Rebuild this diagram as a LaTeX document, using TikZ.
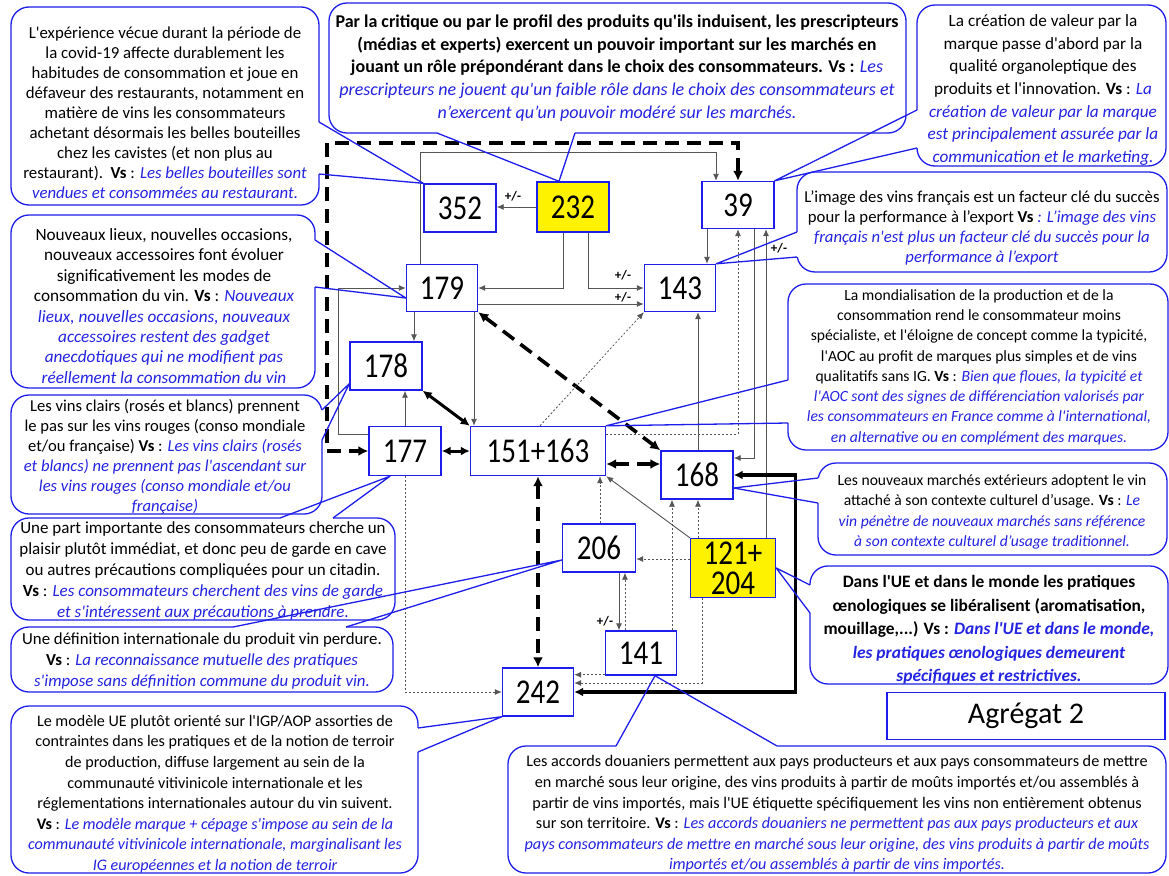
\documentclass[tikz,border=0pt]{standalone}
\usepackage{fontspec}
\setmainfont{Carlito}[Ligatures=TeXOff]
\usetikzlibrary{arrows.meta}
\definecolor{boxblue}{RGB}{30,30,235}
\definecolor{altblue}{RGB}{35,35,225}
\definecolor{linegray}{RGB}{85,85,85}
\newcommand\VS{\textbf{Vs}}
\newcommand\altx[1]{{\color{altblue}\itshape #1}}
\newcommand\altn[1]{{\color{altblue}\mdseries\itshape #1}}
\newcommand\altb[1]{{\color{altblue}\bfseries\itshape #1}}
\newcommand\tallnum[1]{\scalebox{1}[1.2]{#1}}
\newcommand\fs[2]{\fontsize{#1}{#2}\selectfont}
\pgfdeclarelayer{back}
\pgfdeclarelayer{mid}
\pgfsetlayers{back,mid,main}

\begin{document}
\begin{tikzpicture}[x=1pt,y=-1pt,
  callout/.style={draw=boxblue, line width=1.3pt, rounded corners=18pt, fill=white},
  ctext/.style={align=center, font=\fs{16.5}{20.5}, inner sep=0pt},
  numbox/.style={draw=boxblue, line width=1.4pt, fill=white, minimum width=72pt,
    minimum height=48pt, inner sep=0pt, font=\fs{29}{30}},
  wedge/.style={draw=boxblue, line width=1.3pt, line join=round},
  gap/.style={draw=white, line width=3pt},
  conn/.style={draw=linegray, line width=0.9pt, -{Latex[length=7pt,width=6pt]}},
  dotconn/.style={draw=linegray, line width=0.8pt, dash pattern=on 2pt off 2pt,
    -{Latex[length=7pt,width=6pt]}},
  heavy/.style={draw=black, line width=3pt,
    {Latex[length=9pt,width=9pt]}-{Latex[length=9pt,width=9pt]}},
  heavydash/.style={draw=black, line width=3.6pt, dash pattern=on 14pt off 8pt,
    {Latex[length=10pt,width=10pt]}-{Latex[length=10pt,width=10pt]}},
  pm/.style={font=\bfseries\fs{13}{14}, inner sep=0pt},
]
\useasboundingbox (0,0) rectangle (1169,875);

% ---------- factor boxes ----------
\node[numbox] (n352) at (460,208) {\tallnum{352}};
\node[numbox, fill=yellow, minimum height=50pt] (n232) at (573,207) {\tallnum{232}};
\node[numbox, minimum height=47pt] (n39) at (738,205) {\tallnum{39}};
\node[numbox, minimum width=71pt, minimum height=47pt] (n179) at (442,288) {\tallnum{179}};
\node[numbox, minimum width=71pt, minimum height=47pt] (n143) at (680,288) {\tallnum{143}};
\node[numbox] (n178) at (386,366) {\tallnum{178}};
\node[numbox, minimum height=49pt] (n177) at (405,451) {\tallnum{177}};
\node[numbox, minimum width=135pt, minimum height=49pt] (n151) at (538,451) {\tallnum{151+163}};
\node[numbox, minimum width=72pt] (n168) at (697,475) {\tallnum{168}};
\node[numbox, minimum width=73pt] (n206) at (599,548) {\tallnum{206}};
\node[numbox, fill=yellow, minimum width=85pt, minimum height=59pt, align=center] (n121) at (733,568) {\tallnum{121+}\\\tallnum{204}};
\node[numbox, minimum width=71pt, minimum height=44pt] (n141) at (641,653) {\tallnum{141}};
\node[numbox, minimum width=71pt] (n242) at (538,692) {\tallnum{242}};
\node[draw=boxblue, line width=1.4pt, minimum width=278pt, minimum height=47pt,
  inner sep=0pt, font=\fs{30}{32}] (agg) at (1026,716) {Agrégat 2};

% ---------- hypotheses (callouts) ----------
\begin{pgfonlayer}{back}
\fill[white] (0,0) rectangle (1169,875);
\draw[callout] (11,7) rectangle (319,205);
\node[ctext, font=\fs{16.8}{20}] (ta) at (165,113) {L'expérience vécue durant la période de\\la covid-19 affecte durablement les\\habitudes de consommation et joue en\\défaveur des restaurants, notamment en\\matière de vins les consommateurs\\achetant désormais les belles bouteilles\\chez les cavistes (et non plus au\\restaurant).\ \ \VS{} : \altx{Les belles bouteilles sont}\\\altx{vendues et consommées au restaurant.}};

\draw[callout] (329,3) rectangle (906,133);
\node[ctext, font=\bfseries\fs{18}{22.8}] (tb) at (617,68) {Par la critique ou par le profil des produits qu'ils induisent, les prescripteurs\\(médias et experts) exercent un pouvoir important sur les marchés en\\jouant un rôle prépondérant dans le choix des consommateurs. Vs : \altn{Les}\\\altn{prescripteurs ne jouent qu'un faible rôle dans le choix des consommateurs et}\\\altn{n’exercent qu’un pouvoir modéré sur les marchés.}};

\draw[callout] (917,5) rectangle (1166,166);
\node[ctext, font=\fs{17.2}{22.6}] (tc) at (1043,90) {La création de valeur par la\\marque passe d'abord par la\\qualité organoleptique des\\produits et l'innovation. \VS{} : \altx{La}\\\altx{création de valeur par la marque}\\\altx{est principalement assurée par la}\\\altx{communication et le marketing.}};

\draw[callout] (797,172) rectangle (1167,272);
\node[ctext, font=\fs{16.7}{20}] (td) at (982,228) {L’image des vins français est un facteur clé du succès\\pour la performance à l’export \VS{} \altx{: L’image des vins}\\\altx{français n'est plus un facteur clé du succès pour la}\\\altx{performance à l’export}};

\draw[callout] (11,215) rectangle (315,388);
\node[ctext, font=\fs{17.2}{20.4}] (te) at (164,306) {Nouveaux lieux, nouvelles occasions,\\nouveaux accessoires font évoluer\\significativement les modes de\\consommation du vin. \VS{} : \altx{Nouveaux}\\\altx{lieux, nouvelles occasions, nouveaux}\\\altx{accessoires restent des gadget}\\\altx{anecdotiques qui ne modifient pas}\\\altx{réellement la consommation du vin}};

\draw[callout] (788,284) rectangle (1168,450);
\node[ctext, font=\fs{15.6}{20.3}] (tf) at (979,367) {La mondialisation de la production et de la\\consommation rend le consommateur moins\\spécialiste, et l'éloigne de concept comme la typicité,\\l'AOC au profit de marques plus simples et de vins\\qualitatifs sans IG. \VS{} : \altx{Bien que floues, la typicité et}\\\altx{l'AOC sont des signes de différenciation valorisés par}\\\altx{les consommateurs en France comme à l'international,}\\\altx{en alternative ou en complément des marques.}};

\draw[callout] (11,395) rectangle (322,514);
\node[ctext, font=\fs{16.6}{20}] (tg) at (165,457) {Les vins clairs (rosés et blancs) prennent\\le pas sur les vins rouges (conso mondiale\\et/ou française) \VS{} : \altx{Les vins clairs (rosés}\\\altx{et blancs) ne prennent pas l'ascendant sur}\\\altx{les vins rouges (conso mondiale et/ou}\\\altx{française)}};

\draw[callout] (818,463) rectangle (1167,555);
\node[ctext, font=\fs{15.6}{20.3}] (th) at (992,512) {Les nouveaux marchés extérieurs adoptent le vin\\attaché à son contexte culturel d’usage. \VS{} : \altx{Le}\\\altx{vin pénètre de nouveaux marchés sans référence}\\\altx{à son contexte culturel d’usage traditionnel.}};

\draw[callout] (11,518) rectangle (395,620);
\node[ctext, font=\fs{17}{20.8}] (ti) at (203,571) {Une part importante des consommateurs cherche un\\plaisir plutôt immédiat, et donc peu de garde en cave\\ou autres précautions compliquées pour un citadin.\\\VS{} : \altx{Les consommateurs cherchent des vins de garde}\\\altx{et s'intéressent aux précautions à prendre.}};

\draw[callout] (11,627) rectangle (393,692);
\node[ctext, font=\fs{16.8}{21}] (tj) at (202,661) {Une définition internationale du produit vin perdure.\\\VS{} : \altx{La reconnaissance mutuelle des pratiques}\\\altx{s'impose sans définition commune du produit vin.}};

\draw[callout] (810,566) rectangle (1168,684);
\node[ctext, font=\bfseries\fs{17.4}{23.5}] (tm) at (989,630) {Dans l'UE et dans le monde les pratiques\\œnologiques se libéralisent (aromatisation,\\mouillage,...) Vs : \altb{Dans l'UE et dans le monde,}\\\altb{les pratiques œnologiques demeurent}\\\altb{spécifiques et restrictives.}};

\draw[callout] (11,706) rectangle (418,873);
\node[ctext, font=\fs{16.1}{20.6}] (tk) at (215,794) {Le modèle UE plutôt orienté sur l'IGP/AOP assorties de\\contraintes dans les pratiques et de la notion de terroir\\de production, diffuse largement au sein de la\\communauté vitivinicole internationale et les\\réglementations internationales autour du vin suivent.\\\VS{} : \altx{Le modèle marque + cépage s'impose au sein de la}\\\altx{communauté vitivinicole internationale, marginalisant les}\\\altx{IG européennes et la notion de terroir}};

\draw[callout] (508,746) rectangle (1166,873);
\node[ctext, font=\fs{16.2}{20.6}] (tl) at (837,814) {Les accords douaniers permettent aux pays producteurs et aux pays consommateurs de mettre\\en marché sous leur origine, des vins produits à partir de moûts importés et/ou assemblés à\\partir de vins importés, mais l'UE étiquette spécifiquement les vins non entièrement obtenus\\sur son territoire. \VS{} : \altx{Les accords douaniers ne permettent pas aux pays producteurs et aux}\\\altx{pays consommateurs de mettre en marché sous leur origine, des vins produits à partir de moûts}\\\altx{importés et/ou assemblés à partir de vins importés.}};

% openings where the pointers leave the callouts
\draw[gap] (319,122) -- (319,174);
\draw[gap] (437,133) -- (575,133);
\draw[gap] (917,110) -- (917,148);
\draw[gap] (797,232) -- (797,257);
\draw[gap] (315,240) -- (315,287);
\draw[gap] (788,380) -- (788,423);
\draw[gap] (322,410) -- (322,440);
\draw[gap] (818,478) -- (818,503);
\draw[gap] (280,518) -- (333,518);
\draw[gap] (233,627) -- (346,627);
\draw[gap] (810,585) -- (810,613);
\draw[gap] (418,728) -- (418,752);
\draw[gap] (616,746) -- (777,746);
\end{pgfonlayer}

% ---------- links ----------
\begin{pgfonlayer}{mid}
\coordinate (dashcorner) at (327,143);
\draw[conn] (n232.west) -- (n232.west -| n352.east);
\draw[conn] ([xshift=-10pt]n232.south) |- (n179.east);
\draw[conn] ([xshift=15pt]n232.south) |- (n143.west);
\draw[conn] ([yshift=-16pt]n179.east) -- ([yshift=-16pt]n179.east -| n143.west);
\draw[conn] ([xshift=-22pt]n179.north) -- ++(0,-111) -| ([xshift=-22pt]n39.north);
\draw[heavydash] (n39.north) |- (dashcorner) |- (n177.west);
\draw[conn] ([xshift=-28pt]n179.south) -- ([xshift=-28pt]n179.south |- n178.north);
\draw[conn] (n177.north) -- (n177.north |- n178.south);
\draw[conn] ([yshift=17pt]n177.west) -- ++(-30,0) |- (n179.west);
\draw[heavy] (n178.south east) -- (n151.north west);
\draw[heavy] (n177.east) -- (n151.west);
\draw[conn] ([xshift=-64pt]n151.north |- n179.south) -- ([xshift=-64pt]n151.north);
\draw[heavydash] (n179.south east) -- (n168.north west);
\draw[dotconn] ([xshift=2pt]n151.north) -- (n143.south west);
\draw[heavydash] ([yshift=-13pt]n151.east) -- ([yshift=-13pt]n151.east -| n168.west);
\draw[dotconn] ([yshift=17pt]n151.east) -| (n39.south);
\draw[conn] ([xshift=1pt]n168.north) -- ([xshift=1pt]n168.north |- n143.south);
\draw[conn] ([xshift=-31pt]n39.south) -- ([xshift=-31pt]n39.south |- n143.north);
\draw[conn] ([xshift=16pt]n39.south) |- ([yshift=17pt]n168.east);
\draw[conn] ([xshift=33pt]n121.north) -- ([xshift=33pt]n121.north |- n39.south);
\draw[heavy, line width=3.5pt] (n168.east) -- ++(62,0) |- (n242.east);
\draw[dotconn] ([yshift=1pt]n141.south west) -- ([yshift=1pt]n141.south west -| n242.east);
\draw[dotconn] ([xshift=-31pt]n121.south) |- ([yshift=9pt]n242.east);
\draw[dotconn] ([yshift=-11pt]n206.east -| n121.west) -- ([yshift=-11pt]n206.east);
\draw[conn] ([xshift=20pt]n206.south) -- ([xshift=20pt]n206.south |- n141.north);
\draw[dotconn] ([xshift=26pt]n206.south |- n141.north) -- ([xshift=26pt]n206.south);
\draw[dotconn] ([xshift=31pt]n141.north) -- ([xshift=31pt]n141.north |- n168.south);
\draw[dotconn] ([xshift=-35pt]n121.north) -- ([xshift=-35pt]n121.north |- n168.south);
\draw[conn] (n121.north west) -- (n151.south east);
\draw[dotconn] ([xshift=1pt]n206.north) -- ([xshift=1pt]n206.north |- n151.south);
\draw[heavydash] (n151.south) -- (n242.north);
\draw[dotconn] (n177.south) |- (n242.west);

% callout pointers
\draw[wedge] (319,122) -- (n352.north west) -- (319,174);
\draw[wedge] (437,133) -- ([xshift=-14pt]n232.north) -- (575,133);
\draw[wedge] (917,110) -- (n39.north east) -- (917,148);
\draw[wedge] (797,232) -- (n143.north east) -- (797,257);
\draw[wedge] (315,240) -- ([yshift=-10pt]n179.west) -- (315,287);
\draw[wedge] (788,380) -- (n151.north east) -- (788,423);
\draw[wedge] (322,410) -- ([yshift=7pt]n178.south west) -- (322,440);
\draw[wedge] (818,478) -- ([yshift=-13pt]n168.east) -- (818,503);
\draw[wedge] (280,518) -- ([xshift=-15pt]n177.south) -- (333,518);
\draw[wedge] (233,627) -- ([yshift=-12pt]n206.west) -- (346,627);
\draw[wedge] (810,585) -- (n121.east) -- (810,613);
\draw[wedge] (418,728) -- (n242.south west) -- (418,752);
\draw[wedge] (616,746) -- ([xshift=14pt]n141.south) -- (777,746);
\end{pgfonlayer}

% sign labels
\node[pm] (pm1) at (513,196) {+/-};
\node[pm] (pm2) at (623,275) {+/-};
\node[pm] (pm3) at (623,297) {+/-};
\node[pm] (pm4) at (779,248) {+/-};
\node[pm] (pm5) at (605,621) {+/-};
\end{tikzpicture}
\end{document}
